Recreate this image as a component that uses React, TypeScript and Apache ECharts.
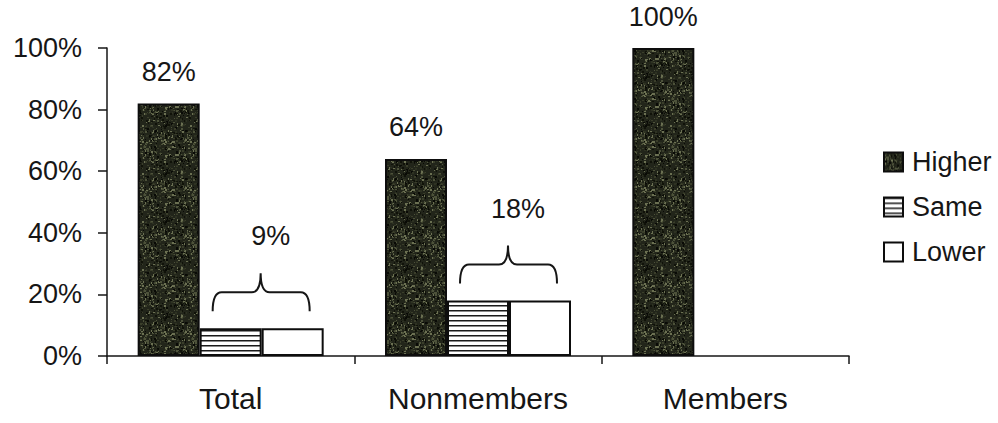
import React, { useEffect, useRef } from "react";
import * as echarts from "echarts";

// Survey shares by group
const categories = ["Total", "Nonmembers", "Members"];
const higher = [82, 64, 100];
const same = [9, 18, 0];
const lower = [9, 18, 0];
const seriesNames = ["Higher", "Same", "Lower"];
const yTicks = [0, 20, 40, 60, 80, 100];

const FONT = "'Liberation Sans', Arial, Helvetica, sans-serif";
const INK = "#161616";
const BAR_W = 62;

// Dark speckled granite fill for the "Higher" bars
function makeSpeckle(): HTMLCanvasElement {
  const c = document.createElement("canvas");
  c.width = 48;
  c.height = 48;
  const ctx = c.getContext("2d")!;
  ctx.fillStyle = "#22251a";
  ctx.fillRect(0, 0, 48, 48);
  let seed = 1234567;
  const rnd = () => {
    seed = (seed * 1103515245 + 12345) & 0x7fffffff;
    return seed / 0x7fffffff;
  };
  const tones = ["#101209", "#3a3e2a", "#4d523a", "#6b7052", "#090a06", "#2e3222"];
  for (let i = 0; i < 520; i++) {
    const x = Math.floor(rnd() * 48);
    const y = Math.floor(rnd() * 48);
    const w = rnd() < 0.5 ? 1 : 2;
    const h = rnd() < 0.5 ? 1 : 2;
    ctx.fillStyle = tones[Math.floor(rnd() * tones.length)];
    ctx.fillRect(x, y, w, h);
  }
  return c;
}

// Horizontal hatching for the "Same" bars
function makeStripes(): HTMLCanvasElement {
  const c = document.createElement("canvas");
  c.width = 4;
  c.height = 5;
  const ctx = c.getContext("2d")!;
  ctx.fillStyle = "#ffffff";
  ctx.fillRect(0, 0, 4, 5);
  ctx.fillStyle = "#1a1a1a";
  ctx.fillRect(0, 0, 4, 1);
  ctx.fillStyle = "#8a8a8a";
  ctx.fillRect(0, 1, 4, 1);
  return c;
}

export default function App() {
  const ref = useRef<HTMLDivElement>(null);

  useEffect(() => {
    document.body.style.margin = "0";
    if (!ref.current) return;
    const chart = echarts.init(ref.current, undefined, { renderer: "svg" });

    const speckle = { image: makeSpeckle(), repeat: "repeat" };
    const stripes = { image: makeStripes(), repeat: "repeat" };

    const toBar = (arr: number[]) => arr.map((v) => (v > 0 ? v : "-"));

    const braceData = categories
      .map((_, i) => [i, same[i], lower[i]])
      .filter((d) => d[1] > 0 || d[2] > 0);

    const option: any = {
      animation: false,
      backgroundColor: "#ffffff",
      textStyle: { fontFamily: FONT, color: INK },
      legend: {
        data: seriesNames,
        orient: "vertical",
        left: 878,
        top: 143,
        itemWidth: 19,
        itemHeight: 19,
        itemGap: 17,
        icon: "rect",
        textStyle: { fontSize: 27, fontFamily: FONT, color: INK, lineHeight: 28, padding: [0, 0, 0, 4] },
      },
      grid: { left: 107, right: 149, top: 48, bottom: 67, containLabel: false },
      xAxis: {
        type: "category",
        data: categories,
        boundaryGap: true,
        axisLine: { show: true, lineStyle: { color: INK, width: 1.5 } },
        axisTick: { show: true, length: 8, alignWithLabel: false, lineStyle: { color: INK, width: 1.5 } },
        axisLabel: { fontSize: 30, fontFamily: FONT, color: INK, margin: 27 },
        splitLine: { show: false },
      },
      yAxis: {
        type: "value",
        min: yTicks[0],
        max: yTicks[yTicks.length - 1],
        interval: yTicks[1] - yTicks[0],
        axisLine: { show: true, lineStyle: { color: INK, width: 1.5 } },
        axisTick: { show: true, length: 9, lineStyle: { color: INK, width: 1.5 } },
        axisLabel: { fontSize: 27, fontFamily: FONT, color: INK, margin: 25, formatter: "{value}%" },
        splitLine: { show: false },
      },
      series: [
        {
          name: seriesNames[0],
          type: "bar",
          data: higher,
          barWidth: BAR_W,
          barGap: "0%",
          itemStyle: { color: speckle, borderColor: "#0d0d0d", borderWidth: 2 },
          label: {
            show: true,
            position: "top",
            distance: 18,
            fontSize: 27,
            fontFamily: FONT,
            color: INK,
            formatter: (p: any) => p.value + "%",
          },
        },
        {
          name: seriesNames[1],
          type: "bar",
          data: toBar(same),
          barWidth: BAR_W,
          barGap: "0%",
          itemStyle: { color: stripes, borderColor: "#0d0d0d", borderWidth: 2 },
        },
        {
          name: seriesNames[2],
          type: "bar",
          data: toBar(lower),
          barWidth: BAR_W,
          barGap: "0%",
          itemStyle: { color: "#ffffff", borderColor: "#0d0d0d", borderWidth: 2 },
        },
        {
          // curly brace over the Same + Lower pair, with its shared value
          type: "custom",
          coordinateSystem: "cartesian2d",
          silent: true,
          z: 5,
          encode: { x: 0, y: 1 },
          data: braceData,
          renderItem: (_params: any, api: any) => {
            const idx = api.value(0);
            const s = api.value(1);
            const l = api.value(2);
            const pt = api.coord([idx, Math.max(s, l)]);
            const cx = pt[0];
            const y0 = pt[1];
            const xl = cx - BAR_W / 2 + 13;
            const xr = cx + BAR_W * 1.5 - 14;
            const xt = cx + 30;
            const yE = y0 - 17;
            const yH = y0 - 36;
            const yT = y0 - 55;
            const r = 9;
            const d =
              `M${xl},${yE} Q${xl},${yH} ${xl + r},${yH} L${xt - r},${yH} ` +
              `Q${xt},${yH} ${xt},${yT} Q${xt},${yH} ${xt + r},${yH} ` +
              `L${xr - r},${yH} Q${xr},${yH} ${xr},${yE}`;
            return {
              type: "group",
              children: [
                {
                  type: "path",
                  shape: { pathData: d },
                  style: { fill: "none", stroke: INK, lineWidth: 2 },
                },
                {
                  type: "text",
                  x: cx + 40,
                  y: yT - 37,
                  style: {
                    text: s + "%",
                    fontSize: 27,
                    fontFamily: FONT,
                    fill: INK,
                    align: "center",
                    verticalAlign: "middle",
                  },
                },
              ],
            };
          },
        },
      ],
    };

    chart.setOption(option);
    return () => chart.dispose();
  }, []);

  return <div ref={ref} style={{ width: 998, height: 423 }} />;
}
